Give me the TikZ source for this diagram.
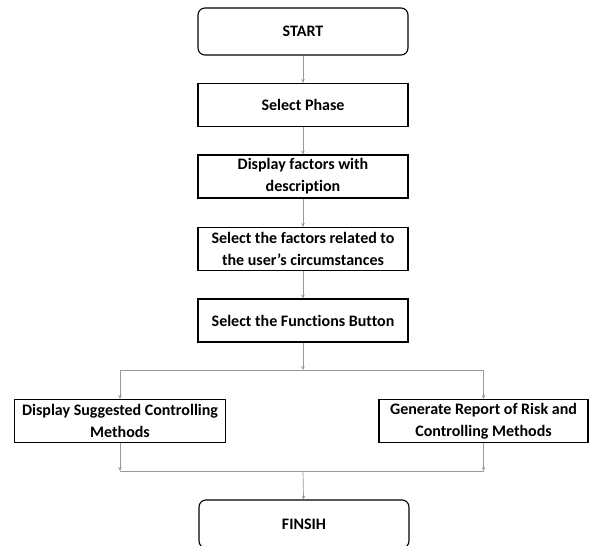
\documentclass[tikz,border=0pt]{standalone}
\usepackage{fontspec}
\setmainfont[Ligatures=NoCommon]{Carlito}
\usetikzlibrary{arrows.meta,positioning,calc}

\begin{document}
\begin{tikzpicture}[
  x=1pt,y=-1pt,
  >={Stealth[length=4pt,width=3.5pt]},
  box/.style={draw,line width=1.1pt,align=center,minimum width=210pt,minimum height=43pt,inner sep=2pt,font=\bfseries\fontsize{16}{22}\selectfont},
  term/.style={box,rounded corners=7pt,minimum height=47pt},
  conn/.style={->,draw=gray!80,line width=0.7pt}
]
  \useasboundingbox (0,0) rectangle (589,546);

  \node[term] (start) at (303,31.5) {START};
  \node[box] (phase) at (303,105) {Select Phase};
  \node[box] (disp) at (303,176.5) {Display factors with\\description};
  \node[box] (sel) at (303,249) {Select the factors related to\\the user’s circumstances};
  \node[box] (func) at (303,320.5) {Select the Functions Button};

  \node[box,minimum width=211pt] (sugg) at (120,421) {Display Suggested Controlling\\Methods};
  \node[box,minimum width=209pt] (report) at (483.5,421) {Generate Report of Risk and\\Controlling Methods};

  \node[term,minimum height=48pt] (finish) at (304,524) {FINSIH};

  \coordinate (split) at (303,370);
  \coordinate (merge) at (303,471);

  \draw[conn] (start) -- (phase);
  \draw[conn] (phase) -- (disp);
  \draw[conn] (disp) -- (sel);
  \draw[conn] (sel) -- (func);
  \draw[conn] (func) -- (split);
  \draw[conn] (split) -| (sugg);
  \draw[conn] (split) -| (report);

  % join the two branches
  \draw[conn] (sugg) -- (sugg |- merge);
  \draw[conn] (report) -- (report |- merge);
  \draw[draw=gray!80,line width=0.7pt] (sugg |- merge) -- (report |- merge);
  \draw[conn] (merge) -- (finish);
\end{tikzpicture}
\end{document}
